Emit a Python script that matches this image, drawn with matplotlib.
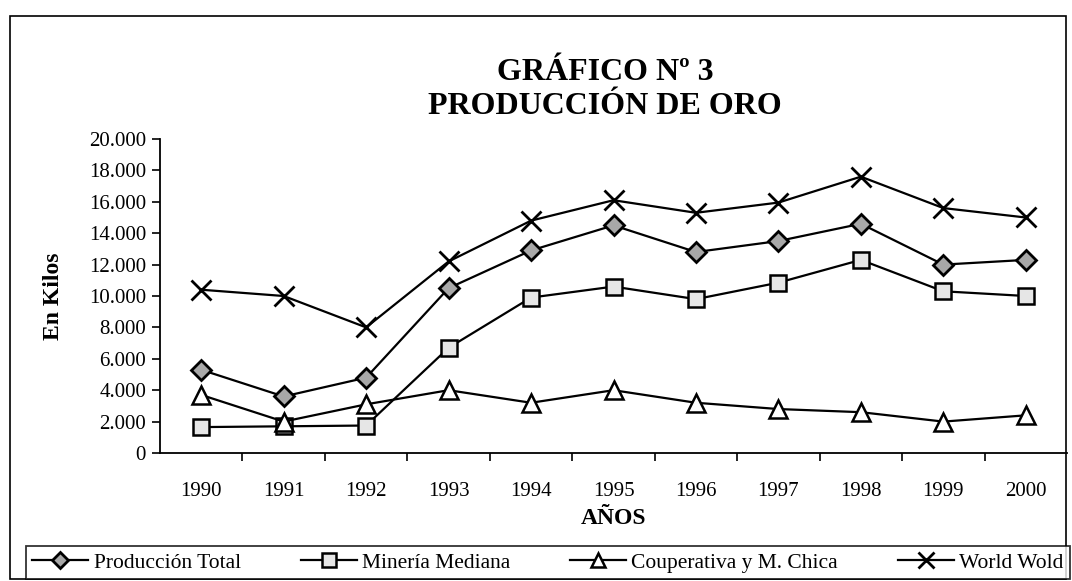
import matplotlib
matplotlib.use("Agg")
import matplotlib.pyplot as plt
from matplotlib.patches import Rectangle
from matplotlib.ticker import FuncFormatter, FixedLocator

years = ["1990", "1991", "1992", "1993", "1994", "1995", "1996", "1997", "1998", "1999", "2000"]
produccion_total = [5300, 3600, 4800, 10500, 12900, 14500, 12800, 13500, 14600, 12000, 12300]
mineria_mediana = [1650, 1700, 1750, 6700, 9900, 10600, 9800, 10850, 12300, 10300, 10000]
cooperativa = [3700, 2000, 3100, 4000, 3200, 4000, 3200, 2800, 2600, 2000, 2400]
world_wold = [10400, 10000, 8000, 12200, 14800, 16100, 15300, 15950, 17600, 15600, 15000]
series_names = ["Producción Total", "Minería Mediana", "Couperativa y M. Chica", "World Wold"]

plt.rcParams['font.family'] = ['Liberation Serif', 'DejaVu Serif']

fig = plt.figure(figsize=(10.72, 5.81), dpi=100)
W, H = 1072, 581
ax = fig.add_axes([160 / W, (H - 453) / H, (1067 - 160) / W, (453 - 139) / H])

x = list(range(len(years)))
lw = 1.6
ax.plot(x, produccion_total, color='black', lw=lw, marker='D', markersize=10,
        markerfacecolor='#a8a8a8', markeredgecolor='black', markeredgewidth=2, label=series_names[0])
ax.plot(x, mineria_mediana, color='black', lw=lw, marker='s', markersize=12,
        markerfacecolor='#e6e6e6', markeredgecolor='black', markeredgewidth=1.8, label=series_names[1])
ax.plot(x, cooperativa, color='black', lw=lw, marker='^', markersize=13,
        markerfacecolor='white', markeredgecolor='black', markeredgewidth=1.8, label=series_names[2])
ax.plot(x, world_wold, color='black', lw=lw, marker='x', markersize=14,
        markeredgewidth=2, label=series_names[3])

ax.set_xlim(-0.5, len(years) - 0.5)
ax.set_ylim(0, 20000)
ax.set_yticks(range(0, 20001, 2000))
ax.yaxis.set_major_formatter(FuncFormatter(lambda v, p: f"{int(v):,}".replace(",", ".")))
ax.set_xticks(x)
ax.set_xticklabels(years)
ax.xaxis.set_minor_locator(FixedLocator([i + 0.5 for i in range(len(years) - 1)]))
ax.tick_params(axis='x', which='major', length=0, pad=21, labelsize=15)
ax.tick_params(axis='x', which='minor', length=6, width=1.2, direction='out')
ax.tick_params(axis='y', which='major', length=6, width=1.2, direction='out', labelsize=15, pad=4)
for s in ['top', 'right']:
    ax.spines[s].set_visible(False)
for s in ['left', 'bottom']:
    ax.spines[s].set_linewidth(1.3)

ax.set_xlabel("AÑOS", fontsize=17, fontweight='bold', labelpad=5)
ax.set_ylabel("En Kilos", fontsize=17, fontweight='bold', labelpad=18)

fig.text(605 / W, 1 - 72 / H, "GRÁFICO Nº 3", ha='center', va='center', fontsize=23, fontweight='bold')
fig.text(605 / W, 1 - 106 / H, "PRODUCCIÓN DE ORO", ha='center', va='center', fontsize=23, fontweight='bold')

fig.patches.append(Rectangle((10 / W, 2 / H), (1066 - 10) / W, (H - 16 - 2) / H,
                             transform=fig.transFigure, fill=False, edgecolor='black', lw=1.2))

leg = fig.legend(loc='lower left', bbox_to_anchor=(26 / W, 2 / H, (1070 - 26) / W, 36 / H),
                 bbox_transform=fig.transFigure, ncol=4, mode='expand', frameon=True,
                 fontsize=15.5, handlelength=2.6, handletextpad=0.25, borderaxespad=0,
                 fancybox=False, edgecolor='black', markerscale=0.8, borderpad=0.3, columnspacing=1.0)
leg.get_frame().set_linewidth(1.3)

fig.savefig("out.png", dpi=100)
